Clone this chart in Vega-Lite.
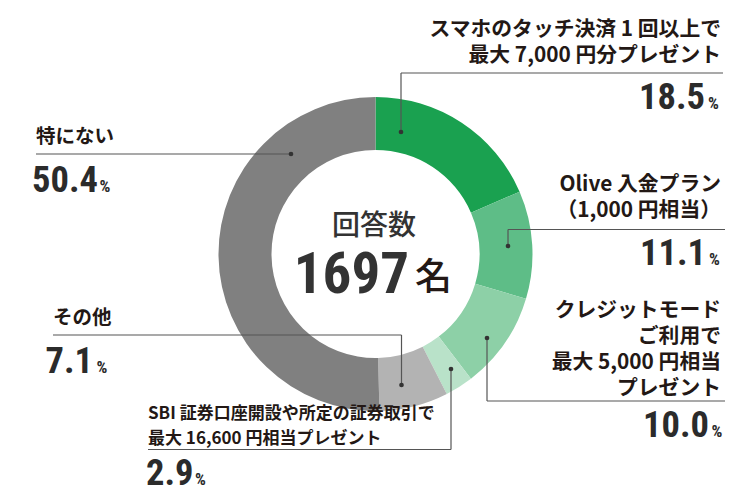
{
  "$schema": "https://vega.github.io/schema/vega-lite/v6.json",
  "width": 750,
  "height": 501,
  "autosize": {"type": "fit", "contains": "padding"},
  "padding": 0,
  "background": "white",
  "config": {"view": {"stroke": null}},
  "datasets": {
    "answers": [
      {"rank": 1, "key": "touch", "item": "スマホのタッチ決済 1 回以上で\n最大 7,000 円分プレゼント", "share": 18.5},
      {"rank": 2, "key": "olive", "item": "Olive 入金プラン\n（1,000 円相当）", "share": 11.1},
      {"rank": 3, "key": "credit", "item": "クレジットモード\nご利用で\n最大 5,000 円相当\nプレゼント", "share": 10.0},
      {"rank": 4, "key": "sbi", "item": "SBI 証券口座開設や所定の証券取引で\n最大 16,600 円相当プレゼント", "share": 2.9},
      {"rank": 5, "key": "other", "item": "その他", "share": 7.1},
      {"rank": 6, "key": "none", "item": "特にない", "share": 50.4}
    ],
    "callouts": [
      {"key": "touch", "side": "right", "dotX": 401, "dotY": 132, "bendY": 73, "endX": 723, "labelX": 721, "labelY": 36, "numX": 705, "numY": 108.5, "signX": 708},
      {"key": "olive", "side": "right", "dotX": 508, "dotY": 246, "bendY": 229.5, "endX": 725, "labelX": 721, "labelY": 190.5, "numX": 706, "numY": 265, "signX": 709},
      {"key": "credit", "side": "right", "dotX": 487, "dotY": 338, "bendY": 401, "endX": 725, "labelX": 721, "labelY": 317, "numX": 709, "numY": 436.5, "signX": 711.5},
      {"key": "sbi", "side": "small", "dotX": 451, "dotY": 369, "bendY": 449.5, "endX": 148, "labelX": 148, "labelY": 419, "numX": 193.5, "numY": 485, "signX": 195},
      {"key": "other", "side": "left", "dotX": 401.5, "dotY": 385, "bendY": 335, "endX": 53, "labelX": 53, "labelY": 324, "numX": 93, "numY": 373.3, "signX": 96.5},
      {"key": "none", "side": "left", "dotX": 291, "dotY": 154, "bendY": 154, "endX": 36, "labelX": 36, "labelY": 142.5, "numX": 98, "numY": 191.5, "signX": 99.5}
    ]
  },
  "layer": [
    {
      "data": {"name": "answers"},
      "mark": {"type": "arc", "innerRadius": 104, "outerRadius": 157},
      "encoding": {
        "theta": {"field": "share", "type": "quantitative", "stack": true},
        "order": {"field": "rank", "type": "quantitative"},
        "color": {
          "field": "key",
          "type": "nominal",
          "legend": null,
          "scale": {
            "domain": ["touch", "olive", "credit", "sbi", "other", "none"],
            "range": ["#1aa150", "#5ebd87", "#8dd0a7", "#b9e2c9", "#b3b3b3", "#808080"]
          }
        },
        "x": {"datum": 375.5, "type": "quantitative", "scale": {"domain": [0, 750], "nice": false, "zero": false}, "axis": null},
        "y": {"datum": 254, "type": "quantitative", "scale": {"domain": [0, 501], "nice": false, "zero": false, "reverse": true}, "axis": null}
      }
    },
    {
      "data": {"name": "callouts"},
      "transform": [
        {"lookup": "key", "from": {"data": {"name": "answers"}, "key": "key", "fields": ["item", "share"]}}
      ],
      "layer": [
        {
          "mark": {"type": "rule", "color": "#555555", "strokeWidth": 1.2},
          "encoding": {
            "x": {"field": "dotX", "type": "quantitative"},
            "x2": {"field": "dotX"},
            "y": {"field": "dotY", "type": "quantitative"},
            "y2": {"field": "bendY"}
          }
        },
        {
          "mark": {"type": "rule", "color": "#555555", "strokeWidth": 1.2},
          "encoding": {
            "x": {"field": "dotX", "type": "quantitative"},
            "x2": {"field": "endX"},
            "y": {"field": "bendY", "type": "quantitative"}
          }
        },
        {
          "mark": {"type": "point", "filled": true, "size": 22, "color": "#333333", "opacity": 1},
          "encoding": {
            "x": {"field": "dotX", "type": "quantitative"},
            "y": {"field": "dotY", "type": "quantitative"}
          }
        },
        {
          "transform": [{"filter": "datum.side === 'right'"}],
          "mark": {"type": "text", "align": "right", "baseline": "alphabetic", "lineBreak": "\n", "lineHeight": 26, "font": "Noto Sans CJK JP", "fontWeight": "bold", "fontSize": 20.8, "color": "#231815"},
          "encoding": {
            "x": {"field": "labelX", "type": "quantitative"},
            "y": {"field": "labelY", "type": "quantitative"},
            "text": {"field": "item"}
          }
        },
        {
          "transform": [{"filter": "datum.side === 'left'"}],
          "mark": {"type": "text", "align": "left", "baseline": "alphabetic", "lineBreak": "\n", "lineHeight": 26, "font": "Noto Sans CJK JP", "fontWeight": "bold", "fontSize": 19.5, "color": "#231815"},
          "encoding": {
            "x": {"field": "labelX", "type": "quantitative"},
            "y": {"field": "labelY", "type": "quantitative"},
            "text": {"field": "item"}
          }
        },
        {
          "transform": [{"filter": "datum.side === 'small'"}],
          "mark": {"type": "text", "align": "left", "baseline": "alphabetic", "lineBreak": "\n", "lineHeight": 25, "font": "Noto Sans CJK JP", "fontWeight": "bold", "fontSize": 17, "color": "#231815"},
          "encoding": {
            "x": {"field": "labelX", "type": "quantitative"},
            "y": {"field": "labelY", "type": "quantitative"},
            "text": {"field": "item"}
          }
        },
        {
          "mark": {"type": "text", "align": "right", "baseline": "alphabetic", "font": "Roboto Condensed, DejaVu Sans Condensed, sans-serif", "fontWeight": "bold", "fontSize": 36.5, "color": "#2b2b2b"},
          "encoding": {
            "x": {"field": "numX", "type": "quantitative"},
            "y": {"field": "numY", "type": "quantitative"},
            "text": {"field": "share", "type": "quantitative", "format": ".1f"}
          }
        },
        {
          "mark": {"type": "text", "align": "left", "baseline": "alphabetic", "font": "Roboto Condensed, DejaVu Sans Condensed, sans-serif", "fontWeight": "bold", "fontSize": 17, "color": "#2b2b2b"},
          "encoding": {
            "x": {"field": "signX", "type": "quantitative"},
            "y": {"field": "numY", "type": "quantitative"},
            "text": {"value": "%"}
          }
        }
      ]
    },
    {
      "data": {"values": [{"caption": "回答数", "total": 1697, "unit": "名"}]},
      "layer": [
        {
          "mark": {"type": "text", "align": "center", "baseline": "alphabetic", "font": "Noto Sans CJK JP", "fontWeight": 500, "fontSize": 28, "color": "#333333"},
          "encoding": {
            "x": {"datum": 374, "type": "quantitative"},
            "y": {"datum": 234.5, "type": "quantitative"},
            "text": {"field": "caption"}
          }
        },
        {
          "mark": {"type": "text", "align": "right", "baseline": "alphabetic", "font": "Roboto Condensed, DejaVu Sans Condensed, sans-serif", "fontWeight": "bold", "fontSize": 57, "color": "#333333"},
          "encoding": {
            "x": {"datum": 409, "type": "quantitative"},
            "y": {"datum": 293, "type": "quantitative"},
            "text": {"field": "total", "type": "quantitative", "format": "d"}
          }
        },
        {
          "mark": {"type": "text", "align": "left", "baseline": "alphabetic", "font": "Noto Sans CJK JP", "fontWeight": 500, "fontSize": 37, "color": "#231815"},
          "encoding": {
            "x": {"datum": 415, "type": "quantitative"},
            "y": {"datum": 290, "type": "quantitative"},
            "text": {"field": "unit"}
          }
        }
      ]
    }
  ]
}
